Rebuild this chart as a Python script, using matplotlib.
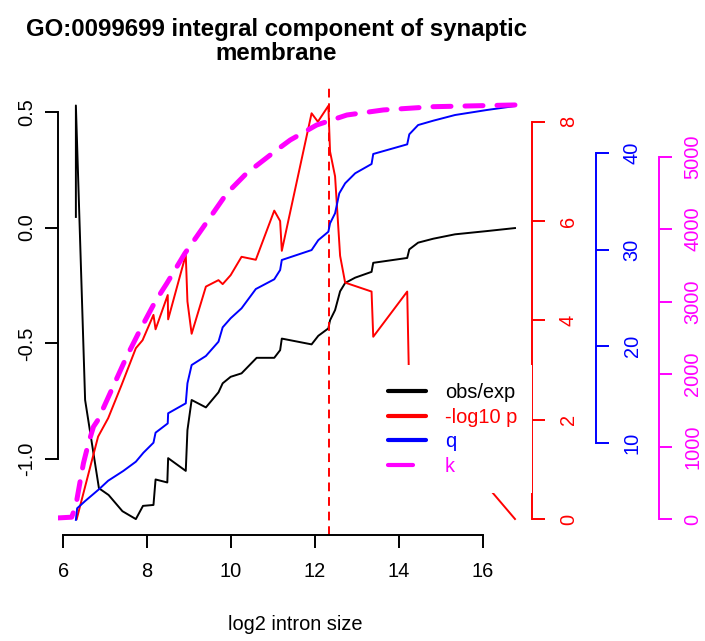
import matplotlib
matplotlib.use("Agg")
import matplotlib.pyplot as plt
from matplotlib.lines import Line2D
from matplotlib.patches import Rectangle

plt.rcParams['font.family'] = ['Liberation Sans', 'DejaVu Sans']

# log2 intron size positions and the four series
x_obs = [6.30, 6.30, 6.52, 6.85, 7.08, 7.41, 7.73, 7.90, 8.15, 8.20, 8.48, 8.50, 8.92, 8.96,
         9.06, 9.40, 9.70, 9.80, 9.99, 10.25, 10.61, 11.03, 11.17, 11.21, 11.92, 12.08, 12.32,
         12.36, 12.48, 12.60, 12.72, 12.96, 13.35, 13.39, 14.20, 14.25, 14.46, 14.82, 15.34,
         16.10, 16.77]
obs_exp = [0.046, 0.527, -0.744, -1.125, -1.154, -1.224, -1.258, -1.201, -1.197, -1.087, -1.100,
           -0.995, -1.050, -0.874, -0.744, -0.776, -0.711, -0.672, -0.644, -0.629, -0.562, -0.562,
           -0.529, -0.479, -0.504, -0.467, -0.435, -0.400, -0.356, -0.275, -0.239, -0.216, -0.191,
           -0.152, -0.131, -0.094, -0.065, -0.048, -0.029, -0.015, -0.002]

x_p = [6.32, 6.83, 7.07, 7.39, 7.73, 7.89, 8.15, 8.20, 8.49, 8.50, 8.92, 8.96, 9.06, 9.40, 9.70,
       9.80, 9.99, 10.25, 10.59, 11.03, 11.17, 11.21, 11.92, 12.07, 12.32, 12.36, 12.48, 12.60,
       12.72, 13.35, 13.39, 14.20, 14.25, 16.77]
neg_log10_p = [0.0, 1.66, 2.03, 2.70, 3.44, 3.60, 4.11, 3.82, 4.51, 4.02, 5.32, 4.38, 3.73, 4.68,
               4.81, 4.73, 4.91, 5.28, 5.22, 6.21, 6.00, 5.40, 8.17, 8.00, 8.32, 7.40, 6.90, 5.30,
               4.76, 4.58, 3.67, 4.58, 2.50, 0.0]

x_q = [6.30, 6.33, 6.52, 6.85, 7.07, 7.43, 7.73, 7.91, 8.15, 8.20, 8.49, 8.50, 8.92, 8.96, 9.06,
       9.40, 9.70, 9.80, 9.99, 10.25, 10.59, 11.03, 11.17, 11.21, 11.92, 12.08, 12.32, 12.36,
       12.48, 12.58, 12.72, 12.96, 13.35, 13.39, 14.20, 14.25, 14.46, 14.82, 15.34, 16.10, 16.77]
q = [2.0, 3.2, 3.95, 5.17, 6.06, 7.07, 8.03, 8.96, 10.0, 11.04, 12.0, 13.05, 14.08, 16.16, 18.05,
     18.99, 20.47, 21.96, 22.9, 23.93, 25.93, 26.94, 27.9, 28.94, 29.97, 31.0, 31.87, 32.74, 33.78,
     35.85, 36.89, 37.93, 38.89, 39.93, 40.93, 41.97, 42.93, 43.38, 43.97, 44.49, 44.9]

x_k = [5.88, 6.20, 6.30, 6.40, 6.48, 6.60, 6.72, 6.83, 7.15, 7.51, 7.83, 8.19, 8.47, 8.90, 9.18,
       9.90, 10.37, 11.09, 11.41, 12.04, 12.76, 13.63, 14.82, 16.77]
k = [15, 25, 190, 515, 769, 1045, 1274, 1370, 1780, 2240, 2608, 2999, 3253, 3667, 3897, 4495,
     4771, 5093, 5230, 5437, 5575, 5645, 5690, 5714]

cutoff = 12.33

x_ticks = [6, 8, 10, 12, 14, 16]
oe_ticks = [-1.0, -0.5, 0.0, 0.5]
p_ticks = [0, 2, 4, 6, 8]
q_ticks = [10, 20, 30, 40]
k_ticks = [0, 1000, 2000, 3000, 4000, 5000]

fs = 14.4
lw = 1.4
W, H = 705, 641

fig = plt.figure(figsize=(W / 100, H / 100), dpi=100)
ax = fig.add_axes([58.3 / W, 106 / H, (532 - 58.3) / W, (535 - 88) / H])

ax.plot(x_obs, obs_exp, color='black', lw=lw)
ax.axvline(cutoff, color='red', lw=lw, ls=(0, (4.5, 3)))
ax.set_xlim(5.8808, 17.1755)
ax.set_ylim(-1.3267, 0.6025)
for s in ['top', 'right']:
    ax.spines[s].set_visible(False)
ax.spines['left'].set_bounds(-1.0, 0.5)
ax.spines['bottom'].set_bounds(6, 16)
ax.set_xticks(x_ticks, [str(t) for t in x_ticks])
ax.set_yticks(oe_ticks, ['%.1f' % t for t in oe_ticks], rotation=90, va='center')
ax.tick_params(axis='x', direction='out', length=9.4, width=lw, labelsize=fs, pad=10)
ax.tick_params(axis='y', direction='out', length=9.4, width=lw, labelsize=fs, pad=6.5)
for s in ax.spines.values():
    s.set_linewidth(lw)


def side_axis(color, xs, ys, ylim, ticks, pos, pad, **kw):
    a = ax.twinx()
    a.plot(xs, ys, color=color, **kw)
    a.set_ylim(*ylim)
    for s in ['top', 'left', 'bottom']:
        a.spines[s].set_visible(False)
    a.spines['right'].set_position(('axes', pos))
    a.spines['right'].set_bounds(ticks[0], ticks[-1])
    a.spines['right'].set_color(color)
    a.spines['right'].set_linewidth(lw)
    a.set_yticks(ticks, [str(t) for t in ticks], rotation=90, va='center')
    a.tick_params(axis='y', direction='out', length=9.4, width=lw, labelsize=fs,
                  colors=color, pad=pad)
    return a


side_axis('red', x_p, neg_log10_p, (-0.322, 8.679), p_ticks, 1.0, 10, lw=lw)
side_axis('blue', x_q, q, (0.432, 46.77), q_ticks, 1.1345, 10, lw=lw)
side_axis('magenta', x_k, k, (-220.8, 5948), k_ticks, 1.268, 8,
          lw=3.6, ls=(0, (3.6, 2.8)), dash_capstyle='round')

# white legend background (covers part of the red axis like the original)
fig.add_artist(Rectangle((375 / W, 148 / H), (532.3 - 375) / W, (493 - 365) / H,
                         transform=fig.transFigure, facecolor='white', edgecolor='none',
                         zorder=5))
handles = [
    Line2D([], [], color='black', lw=3, solid_capstyle='round'),
    Line2D([], [], color='red', lw=3, solid_capstyle='round'),
    Line2D([], [], color='blue', lw=3, solid_capstyle='round'),
    Line2D([], [], color='magenta', lw=3, ls=(0, (6, 4)), dash_capstyle='round'),
]
leg = fig.legend(handles, ['obs/exp', '-log10 p', 'q', 'k'], loc='upper left',
                 bbox_to_anchor=(388 / W, 1 - 383 / H), frameon=False, fontsize=fs,
                 handlelength=1.9, handletextpad=0.95, labelspacing=0.28,
                 borderpad=0, borderaxespad=0,
                 labelcolor=['black', 'red', 'blue', 'magenta'])
leg.set_zorder(6)

fig.text(276 / W, 1 - 60 / H, 'GO:0099699 integral component of synaptic\nmembrane',
         ha='center', va='baseline', fontsize=17.3, fontweight='bold', linespacing=1.06)
fig.text(295 / W, 1 - 630 / H, 'log2 intron size', ha='center', va='baseline', fontsize=fs)

fig.savefig('out.png', dpi=100)
